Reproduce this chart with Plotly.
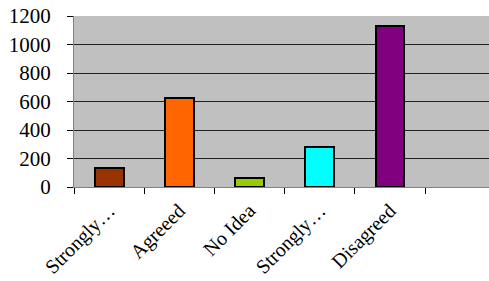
import plotly.graph_objects as go

categories = ["Strongly…", "Agreeed", "No Idea", "Strongly…", "Disagreed"]
values = [131, 627, 63, 281, 1132]
colors = ["#993300", "#FF6600", "#99CC00", "#00FFFF", "#800080"]
y_ticks = [0, 200, 400, 600, 800, 1000, 1200]

xpos = list(range(len(categories)))

fig = go.Figure()
fig.add_trace(go.Bar(
    x=xpos, y=values, width=0.41,
    marker=dict(color=colors, line=dict(color="black", width=2)),
    showlegend=False, hoverinfo="skip",
))

yfont = dict(family="Liberation Serif", size=21, color="black")
xfont = dict(family="Liberation Serif", size=20, color="black")

fig.update_layout(
    width=489, height=281,
    margin=dict(l=74, r=0, t=16, b=94, autoexpand=False),
    paper_bgcolor="white",
    plot_bgcolor="#C0C0C0",
    font=yfont,
    xaxis=dict(
        range=[-0.5, 5.41], automargin=False,
        tickvals=xpos, ticktext=categories, tickangle=-45,
        ticks="", showgrid=False, zeroline=False,
        showline=True, linecolor="#808080", linewidth=1,
        ticklabelstandoff=3,
        minor=dict(tickvals=[i - 0.5 for i in range(len(categories) + 1)],
                   ticks="outside", ticklen=6, tickcolor="black", tickwidth=1,
                   showgrid=False),
        tickfont=xfont,
    ),
    yaxis=dict(
        range=[0, 1200], tickvals=y_ticks, automargin=False,
        ticks="outside", ticklen=6, tickcolor="black", tickwidth=1,
        ticklabelstandoff=12,
        showgrid=True, gridcolor="#222222", gridwidth=1,
        zeroline=False, showline=True, linecolor="#808080", linewidth=1,
        tickfont=yfont,
    ),
    bargap=0,
)

fig.write_html("out.html", config={"displayModeBar": False},
               post_script="document.body.style.margin='0';document.body.style.overflow='hidden';")
